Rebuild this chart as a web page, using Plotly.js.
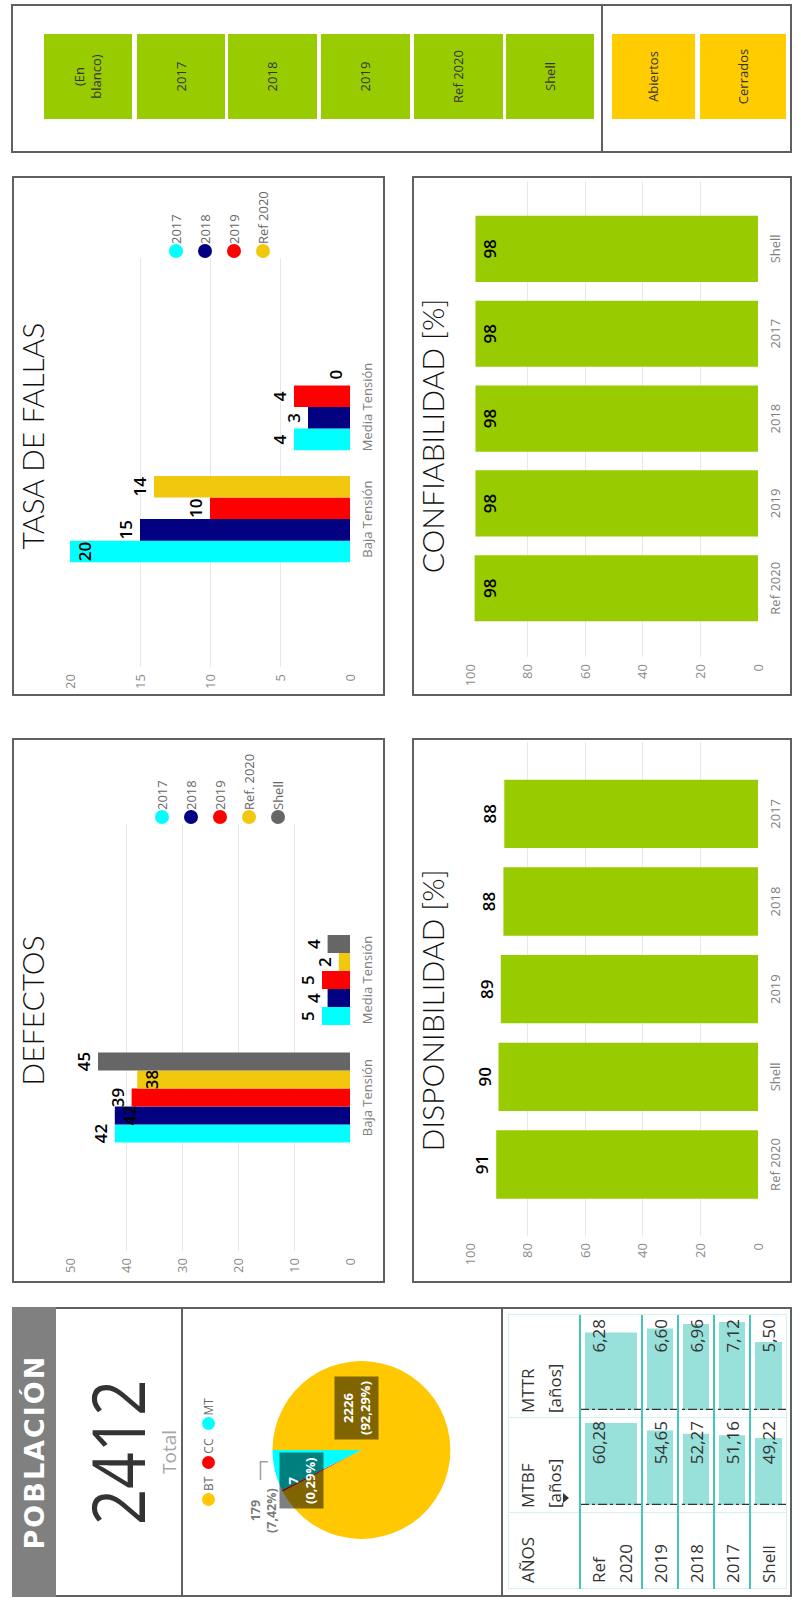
<!DOCTYPE html>
<html><head><meta charset="utf-8">
<script src="https://cdn.plot.ly/plotly-3.0.1.min.js"></script>
<style>
html,body{margin:0;padding:0;width:801px;height:1606px;overflow:hidden;background:#fff;}
#land{position:absolute;left:0;top:0;width:1606px;height:801px;transform-origin:0 0;transform:translateY(1606px) rotate(-90deg);background:#fff;font-family:'Open Sans',sans-serif;}
.abs{position:absolute;box-sizing:border-box;}
</style></head><body><div id="land"></div>
<script>
// ---------------- DATA ----------------
const fallaCats = ['Baja Tensión', 'Media Tensión'];
const fallaNames = ['2017', '2018', '2019', 'Ref 2020'];
const falla2017 = [20, 4];
const falla2018 = [15, 3];
const falla2019 = [10, 4];
const fallaRef2020 = [14, 0];

const defCats = ['Baja Tensión', 'Media Tensión'];
const defNames = ['2017', '2018', '2019', 'Ref. 2020', 'Shell'];
const def2017 = [42, 5];
const def2018 = [42, 4];
const def2019 = [39, 5];
const defRef2020 = [38, 2];
const defShell = [45, 4];

const dispCats = ['Ref 2020', 'Shell', '2019', '2018', '2017'];
const dispVals = [90.9, 90.1, 89.3, 88.4, 88.1];

const confCats = ['Ref 2020', '2019', '2018', '2017', 'Shell'];
const confVals = [98.4, 98.1, 98.1, 98.1, 98.1];

const pieLabels = ['BT', 'CC', 'MT'];
const pieValues = [2226, 7, 179];

const tableYears = ['Ref 2020', '2019', '2018', '2017', 'Shell'];
const mtbfVals = [60.28, 54.65, 52.27, 51.16, 49.22];
const mttrVals = [6.28, 6.60, 6.96, 7.12, 5.50];

const slicerYears = ['(En blanco)', '2017', '2018', '2019', 'Ref 2020', 'Shell'];
const slicerEstado = ['Abiertos', 'Cerrados'];

// ---------------- HELPERS ----------------
const FONT = "'Segoe UI','Open Sans',sans-serif";
const TFONT = "'Segoe UI Light',Lato,'Open Sans',sans-serif";
const land = document.getElementById('land');
function box(X1, Y1, X2, Y2, css, html) {
  const d = document.createElement('div');
  d.className = 'abs';
  d.style.cssText = `left:${X1}px;top:${Y1}px;width:${X2 - X1}px;height:${Y2 - Y1}px;` + (css || '');
  if (html !== undefined) d.innerHTML = html;
  land.appendChild(d);
  return d;
}
const CFG = {staticPlot: true, displayModeBar: false};

function htmlLegend(cx, cy0, dy, names, colors) {
  names.forEach((n, i) => {
    const cy = cy0 + i * dy;
    box(cx - 7, cy - 7, cx + 7, cy + 7, 'border-radius:7px;background:' + colors[i] + ';');
    box(cx + 7, cy - 10, cx + 90, cy + 10, 'font-family:' + FONT + ';font-size:13px;line-height:20px;color:#666;white-space:nowrap;', n);
  });
}

function barChart(rect, m, title, cats, names, series, colors, positions, yRange, dtick, xRange, bargap) {
  const d = box(rect[0], rect[1], rect[2], rect[3]);
  const H = rect[3] - rect[1];
  const traces = series.map((vals, i) => ({
    type: 'bar', x: cats, y: vals, name: names ? names[i] : '',
    marker: {color: colors[i], line: {width: 0}},
    texttemplate: '%{y:.0f}',
    textposition: positions[i], insidetextanchor: 'end', textangle: 0, constraintext: 'none',
    cliponaxis: false,
    textfont: {family: FONT, size: 17, color: '#000', weight: 600},
    insidetextfont: {family: FONT, size: 17, color: '#000', weight: 600},
    outsidetextfont: {family: FONT, size: 17, color: '#000', weight: 600},
    showlegend: false, hoverinfo: 'skip'
  }));
  const layout = {
    width: rect[2] - rect[0], height: H,
    margin: {l: m[0], r: m[1], t: m[2], b: m[3], pad: 0},
    paper_bgcolor: 'rgba(0,0,0,0)', plot_bgcolor: 'rgba(0,0,0,0)',
    title: {text: title, font: {family: TFONT, size: 30, color: '#111', weight: 300},
            x: 0.5, xref: 'container', xanchor: 'center', y: 1 - 21 / H, yref: 'container', yanchor: 'middle'},
    barmode: 'group', bargap: bargap, bargroupgap: 0,
    xaxis: {type: 'category', range: xRange, showgrid: false, zeroline: false, showline: false, ticks: '',
            ticklabelstandoff: 8, tickfont: {family: FONT, size: 13, color: '#808080'}},
    yaxis: {range: yRange, dtick: dtick, showgrid: true, gridcolor: '#e8e8e8', gridwidth: 1, zeroline: false,
            showline: false, ticks: '', ticklabelstandoff: 6, tickfont: {family: FONT, size: 13, color: '#8a8a8a'}},
    showlegend: false, hovermode: false,
    font: {family: FONT}
  };
  Plotly.newPlot(d, traces, layout, CFG);
  box(rect[0], rect[1], rect[2], rect[3], 'border:2px solid #606060;');
}

// ---------------- SLICER PANEL ----------------
box(1453, 11, 1602, 792, 'border:2px solid #606060;');
box(1453, 601, 1602, 603, 'background:#606060;');
const yearBtnY = [[44, 132], [137, 225], [228, 317], [321, 410], [414, 503], [506, 594]];
const estBtnY = [[612, 695], [700, 786]];
const btnCss = 'display:flex;align-items:center;justify-content:center;text-align:center;padding:0 12px;font-family:' + FONT + ';font-size:13px;color:#333;line-height:17px;';
slicerYears.forEach((t, i) => box(1487, yearBtnY[i][0], 1572, yearBtnY[i][1], 'background:#99CC00;' + btnCss, t));
slicerEstado.forEach((t, i) => box(1487, estBtnY[i][0], 1572, estBtnY[i][1], 'background:#FFCC00;' + btnCss, t));

// ---------------- BAR CHARTS ----------------
const fColors = ['#00FFFF', '#000080', '#FF0000', '#F2C80F'];
barChart([910, 12, 1430, 385], [29, 82, 58, 35], 'TASA DE FALLAS', fallaCats, fallaNames,
  [falla2017, falla2018, falla2019, fallaRef2020], fColors,
  [['inside', 'outside'], 'outside', 'outside', 'outside'],
  [0, 20], 5, [-1.32, 2.33], 0.23);
htmlLegend(1355, 176, 29, fallaNames, fColors);

const dColors = ['#00FFFF', '#000080', '#FF0000', '#F2C80F', '#666666'];
barChart([323, 12, 868, 385], [32, 86, 58, 35], 'DEFECTOS', defCats, defNames,
  [def2017, def2018, def2019, defRef2020, defShell], dColors,
  ['outside', ['inside', 'outside'], 'outside', ['inside', 'outside'], 'outside'],
  [0, 50], 10, [-1.306, 2.328], 0.234);
htmlLegend(789, 162, 29, defNames, dColors);

barChart([323, 412, 868, 792], [47, 4, 58, 34], 'DISPONIBILIDAD [%]', dispCats, null,
  [dispVals], ['#99CC00'], ['outside'], [0, 100], 20, [-0.816, 4.82], 0.22);

barChart([910, 412, 1430, 792], [39, 5, 58, 34], 'CONFIABILIDAD [%]', confCats, null,
  [confVals], ['#99CC00'], ['inside'], [0, 100], 20, [-0.81, 4.8], 0.22);

// ---------------- POBLACION BOX ----------------
box(9, 12, 299, 792, 'border:2px solid #606060;');
box(9, 12, 299, 56, 'background:#808080;display:flex;align-items:center;justify-content:center;color:#fff;font-family:"DejaVu Sans",sans-serif;font-weight:bold;font-size:27px;letter-spacing:2px;', 'POBLACIÓN');
box(9, 181, 299, 183, 'background:#606060;');
box(9, 501, 299, 503, 'background:#606060;');
const total = pieValues.reduce((a, b) => a + b, 0);
box(9, 82, 299, 152, 'display:flex;align-items:center;justify-content:center;',
  '<span style="display:inline-block;font-family:\'Open Sans\',sans-serif;font-weight:500;font-size:74px;color:#333;transform:scaleX(0.86);line-height:70px;">' + total + '</span>');
box(9, 156, 299, 181, 'display:flex;align-items:center;justify-content:center;font-family:' + FONT + ';font-size:19px;color:#a6a6a6;', 'Total');

// ---------------- PIE ----------------
const pieColors = ['#FFC800', '#FF0000', '#00FFFF'];
const pct = v => (v / total * 100).toFixed(2).replace('.', ',') + '%';
const pieDiv = box(9, 184, 299, 500);
const annBase = {xref: 'paper', yref: 'paper', showarrow: false, align: 'center', xanchor: 'center', yanchor: 'middle'};
Plotly.newPlot(pieDiv, [{
  type: 'pie', labels: pieLabels, values: pieValues, sort: false, direction: 'clockwise', rotation: 0,
  marker: {colors: pieColors, line: {width: 0}}, textinfo: 'none', hoverinfo: 'none', showlegend: false,
  domain: {x: [0.2, 0.814], y: [0.157, 0.72]}
}], {
  width: 290, height: 316, margin: {l: 0, r: 0, t: 0, b: 0}, paper_bgcolor: 'rgba(0,0,0,0)',
  annotations: [
    Object.assign({}, annBase, {x: 0.653, y: 0.454,
     text: '<b>' + pieValues[0] + '<br>(' + pct(pieValues[0]) + ')</b>', bgcolor: 'rgba(0,0,0,0.5)', borderpad: 4,
     font: {family: FONT, size: 13, color: '#fff'}}),
    Object.assign({}, annBase, {x: 0.402, y: 0.628,
     text: '<b>' + pieValues[1] + '<br>(' + pct(pieValues[1]) + ')</b>', bgcolor: 'rgba(0,0,0,0.5)', borderpad: 4,
     font: {family: FONT, size: 13, color: '#fff'}}),
    Object.assign({}, annBase, {x: 0.297, y: 0.748,
     text: '<b>' + pieValues[2] + '<br>(' + pct(pieValues[2]) + ')</b>',
     font: {family: FONT, size: 12.5, color: '#7a7a7a'}})
  ],
  shapes: [{type: 'path', xref: 'paper', yref: 'paper', path: 'M0.4666,0.734 L0.4666,0.758 L0.4034,0.758',
            line: {color: '#a0a0a0', width: 1.5}}]
}, CFG);
const lg = box(100, 200, 240, 216, 'display:flex;align-items:center;font-family:' + FONT + ';font-size:12px;color:#666;white-space:nowrap;');
lg.innerHTML = pieLabels.map((l, i) => `<span style="display:inline-block;width:13px;height:13px;border-radius:7px;background:${pieColors[i]};margin-right:2px;"></span><span style="margin-right:8px;">${l}</span>`).join('');

// ---------------- TABLE ----------------
const rowTops = [580, 642, 678, 714, 750, 787];
const colX = [17, 93, 188, 291];
const teal = '#45C6B6', lightTeal = '#D5F1ED';
const tDiv = box(17, 580, 291, 787);
const centers = tableYears.map((_, i) => (rowTops[i] + rowTops[i + 1]) / 2 - rowTops[0]);
const widths = tableYears.map((_, i) => rowTops[i + 1] - rowTops[i] - 10);
const tH = rowTops[5] - rowTops[0];
Plotly.newPlot(tDiv, [
  {type: 'bar', orientation: 'h', x: mtbfVals, y: centers, width: widths, marker: {color: '#98E1DA'}, xaxis: 'x', yaxis: 'y', hoverinfo: 'skip'},
  {type: 'bar', orientation: 'h', x: mttrVals, y: centers, width: widths, marker: {color: '#98E1DA'}, xaxis: 'x2', yaxis: 'y', hoverinfo: 'skip'}
], {
  width: 274, height: tH, margin: {l: 0, r: 0, t: 0, b: 0}, showlegend: false,
  paper_bgcolor: 'rgba(0,0,0,0)', plot_bgcolor: 'rgba(0,0,0,0)',
  xaxis: {domain: [0.3066, 0.624], range: [0, Math.max(...mtbfVals) * 1.06], visible: false},
  xaxis2: {domain: [0.6533, 1], range: [0, Math.max(...mttrVals) * 1.08], visible: false, anchor: 'y'},
  yaxis: {range: [tH, 0], visible: false},
  shapes: [
    {type: 'line', xref: 'x', yref: 'y', x0: 0, x1: 0, y0: 0, y1: tH, line: {color: '#333', width: 2.5, dash: 'dashdot'}},
    {type: 'line', xref: 'x2', yref: 'y', x0: 0, x1: 0, y0: 0, y1: tH, line: {color: '#333', width: 2.5, dash: 'dashdot'}}
  ]
}, CFG);
colX.forEach(x => box(x, 508, x + 1, 787, 'background:' + lightTeal + ';'));
box(17, 508, 291, 509, 'background:' + lightTeal + ';');
box(17, 786, 291, 787, 'background:' + lightTeal + ';');
rowTops.slice(0, 5).forEach(y => box(17, y - 1, 291, y + 1, 'background:' + teal + ';'));
const txtCss = 'font-family:' + FONT + ';font-size:17px;color:#333;line-height:27px;';
box(23, 514, 93, 570, txtCss, 'AÑOS');
box(98, 514, 188, 570, txtCss, 'MTBF<br>[años]');
box(193, 514, 291, 570, txtCss, 'MTTR<br>[años]');
box(103, 563, 113, 570, 'width:0;height:0;border-left:5px solid transparent;border-right:5px solid transparent;border-top:6px solid #333;');
const fmt = v => v.toFixed(2).replace('.', ',');
tableYears.forEach((t, i) => {
  box(23, rowTops[i] + 5, 80, rowTops[i + 1], txtCss + 'white-space:normal;word-wrap:break-word;', t);
  box(93, rowTops[i] + 5, 185, rowTops[i] + 32, txtCss + 'text-align:right;', fmt(mtbfVals[i]));
  box(188, rowTops[i] + 5, 287, rowTops[i] + 32, txtCss + 'text-align:right;', fmt(mttrVals[i]));
});
</script></body></html>
